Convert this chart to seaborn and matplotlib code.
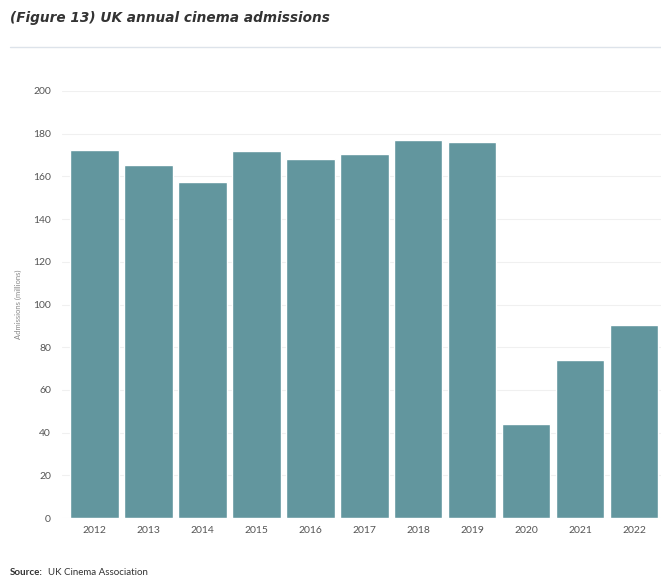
import matplotlib
matplotlib.use("Agg")
import matplotlib.pyplot as plt
import seaborn as sns
import pandas as pd

years = ["2012", "2013", "2014", "2015", "2016", "2017", "2018", "2019", "2020", "2021", "2022"]
admissions = [172.5, 165.5, 157.5, 171.9, 168.3, 170.6, 177.0, 176.1, 44.0, 74.0, 90.5]
yticks = [0, 20, 40, 60, 80, 100, 120, 140, 160, 180, 200]

sns.set_theme(style="white")
plt.rcParams['font.family'] = ['Lato', 'DejaVu Sans']

df = pd.DataFrame({"year": years, "admissions": admissions})

fig = plt.figure(figsize=(6.61, 5.87), dpi=100)
ax = fig.add_axes([0.094, 0.1175, 0.906, 0.7275])

sns.barplot(data=df, x="year", y="admissions", color="#62969e", saturation=1,
            width=0.9, ax=ax, zorder=3)

ax.set_ylim(0, 200)
ax.set_yticks(yticks)
ax.set_yticklabels([str(v) for v in yticks])
ax.set_xlim(-0.6, 10.5)
ax.grid(axis="y", color="#f0f0f0", linewidth=0.8, zorder=0)
for s in ax.spines.values():
    s.set_visible(False)
ax.tick_params(axis="both", length=0, labelsize=7.5, colors="#555555")
ax.tick_params(axis="y", pad=8)
ax.tick_params(axis="x", pad=6)
ax.set_xlabel("")
ax.set_ylabel("Admissions (millions)", fontsize=5.5, color="#888888", labelpad=8)

fig.text(0.015, 0.97, "(Figure 13) UK annual cinema admissions", fontsize=9.8,
         fontweight="bold", fontstyle="italic", color="#333333", va="center",
         family=["DejaVu Sans"])
fig.add_artist(matplotlib.lines.Line2D([0.015, 1.0], [0.92, 0.92], color="#dde3ea",
                                       linewidth=1, transform=fig.transFigure))
fig.text(0.015, 0.025, "Source:", fontsize=7, fontweight="bold", color="#333333", va="center")
fig.text(0.072, 0.025, "UK Cinema Association", fontsize=7, color="#333333", va="center")

fig.savefig("out.png", dpi=100)
